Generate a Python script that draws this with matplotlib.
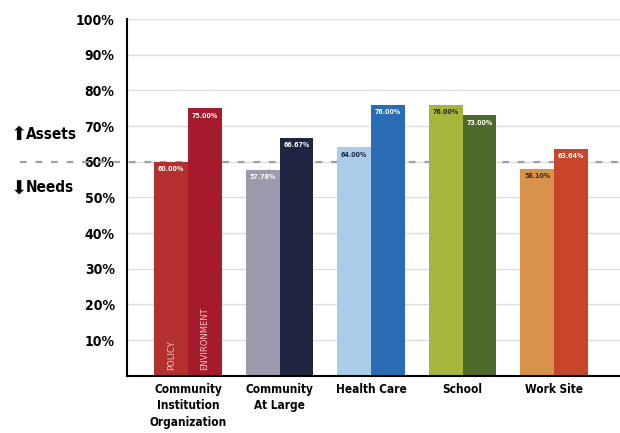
import numpy as np
import matplotlib.pyplot as plt
from matplotlib.transforms import blended_transform_factory

categories = ["Community\nInstitution\nOrganization", "Community\nAt Large",
              "Health Care", "School", "Work Site"]
policy = [60.00, 57.78, 64.00, 76.00, 58.10]
environment = [75.00, 66.67, 76.00, 73.00, 63.64]
yticks = [10, 20, 30, 40, 50, 60, 70, 80, 90, 100]

policy_colors = ["#b3302e", "#9d9aad", "#a9cce8", "#a6b53c", "#d8924a"]
env_colors = ["#a61b2b", "#1f2540", "#2b6db4", "#4e6a2b", "#c6452b"]
policy_text = ["white", "white", "#1f2540", "#2a2a10", "#3a2a10"]
env_text = ["white", "white", "white", "white", "white"]

fig = plt.figure(figsize=(6.2, 4.33), dpi=100)
ax = fig.add_axes([0.205, 0.132, 0.795, 0.824])

x = np.arange(len(categories))
w = 0.37
b1 = ax.bar(x - w / 2, policy, w, color=policy_colors, zorder=2)
b2 = ax.bar(x + w / 2, environment, w, color=env_colors, zorder=2)

cond = dict(fontstretch="condensed", fontweight="bold")
for bars, vals, cols in [(b1, policy, policy_text), (b2, environment, env_text)]:
    for b, v, c in zip(bars, vals, cols):
        ax.text(b.get_x() + b.get_width() / 2, v - 1.2, "%.2f%%" % v,
                ha="center", va="top", fontsize=5, color=c, zorder=3, **cond)

# series names written inside the first pair of bars
ax.text(x[0] - w / 2, 1.5, "POLICY", rotation=90, ha="center", va="bottom",
        fontsize=6, color="#f0c8c8", zorder=3)
ax.text(x[0] + w / 2, 1.5, "ENVIRONMENT", rotation=90, ha="center", va="bottom",
        fontsize=6, color="#f0c8c8", zorder=3)

ax.set_xlim(-0.667, 4.72)
ax.set_ylim(0, 100)
ax.set_yticks(yticks)
ax.set_yticklabels(["%d%%" % t for t in yticks], fontsize=10, **cond)
ax.set_xticks(x)
ax.set_xticklabels(categories, fontsize=8.5, linespacing=1.35, **cond)
ax.tick_params(length=0, axis="y", pad=9)
ax.tick_params(length=0, axis="x", pad=5)

ax.grid(axis="y", color="#d8dde0", linewidth=1, zorder=0.5)
ax.set_axisbelow(True)
for s in ["top", "right"]:
    ax.spines[s].set_visible(False)
ax.spines["left"].set_linewidth(1.5)
ax.spines["bottom"].set_linewidth(1.5)

# assets / needs threshold line, drawn behind the bars
tr = blended_transform_factory(fig.transFigure, ax.transData)
ax.plot([0.032, 1.0], [60, 60], transform=tr, clip_on=False,
        color="#a0a0a0", linestyle=(0, (3, 4)), linewidth=1.6, zorder=1)
fig.text(0.018, 0.69, "\u2b06", fontsize=14, ha="left", va="center")
fig.text(0.042, 0.69, "Assets", fontsize=11, ha="left", va="center", **cond)
fig.text(0.018, 0.564, "\u2b07", fontsize=14, ha="left", va="center")
fig.text(0.042, 0.568, "Needs", fontsize=11, ha="left", va="center", **cond)

fig.savefig("out.png", dpi=100)
